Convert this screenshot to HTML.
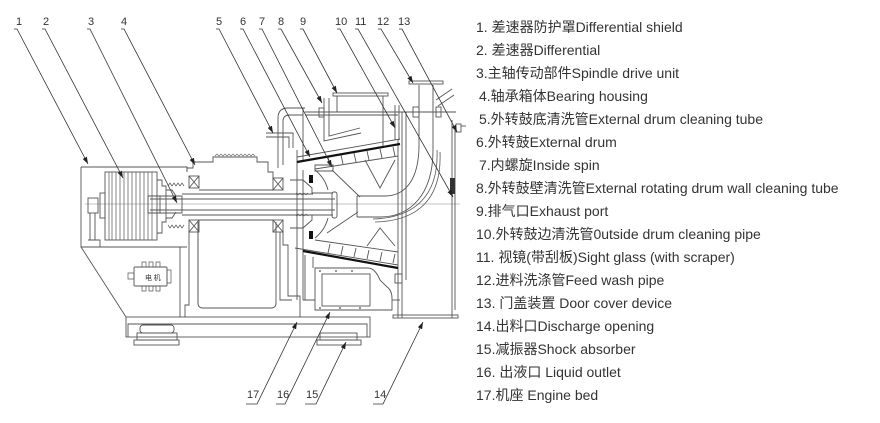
<!DOCTYPE html>
<html><head><meta charset="utf-8"><style>
html,body{margin:0;padding:0;background:#fff;}
body{width:880px;height:423px;position:relative;overflow:hidden;}
svg{position:absolute;left:0;top:0;}
.lg{position:absolute;left:476px;top:15.5px;font-size:14px;line-height:23px;color:#333;font-family:"Liberation Sans","Noto Sans CJK SC",sans-serif;}
.lg div{height:23px;white-space:pre;}
.i{padding-left:3px;}
</style></head><body>
<svg width="880" height="423" viewBox="0 0 880 423">
<defs><marker id="a" markerWidth="8" markerHeight="6" refX="7" refY="3" orient="auto" markerUnits="userSpaceOnUse"><path d="M0,0.6 L7,3 L0,5.4z" fill="#222"/></marker></defs>
<path d="M85,204 H460" stroke="#888" stroke-width="0.6" fill="none"/>
<g stroke="#555" stroke-width="0.9" fill="none">
<path d="M81,167 H187 V172 M81,167 V247 H187"/>
<path d="M81,247 L126,317 M180,247 V317"/>
<rect x="105" y="172" width="52" height="68"/>
<path d="M109,172V240M112,172V240M116,172V240M120,172V240M124,172V240M128,172V240M132,172V240M136,172V240M140,172V240M144,172V240M148,172V240M152,172V240" stroke-width="0.7"/>
<path d="M157,180 H162 V186 H166 V222 H162 V233 H157"/>
<path d="M166,190 H172 L176,196 M166,218 H172 L176,212"/>
<path d="M168,186 l2,-3 l2,3 l2,-3 l2,3 l2,-3 l2,3 l2,-3 l2,3 M168,225 l2,3 l2,-3 l2,3 l2,-3 l2,3 l2,-3 l2,3 l2,-3" stroke-width="0.7"/>
<rect x="88" y="198" width="10" height="15"/>
<rect x="100" y="193" width="5" height="25"/>
<path d="M90,213 V240 M95,213 V240 M88,240 H100 V247"/>
<path d="M148,196 H182 V213 H148 Z M160,196 V213"/>
<path d="M182,194 H313 M182,215 H313 M150,199 H335 M150,210 H335"/>
<path d="M296,193 l2,2 l2,-2 l2,2 l2,-2 l2,2 l2,-2 M296,216 l2,-2 l2,2 l2,-2 l2,2 l2,-2 l2,2" stroke-width="0.6"/>
<rect x="189" y="176" width="10" height="12"/><path d="M189,176 L199,188 M199,176 L189,188"/>
<rect x="189" y="220" width="10" height="12"/><path d="M189,220 L199,232 M199,220 L189,232"/>
<rect x="273" y="178" width="10" height="12"/><path d="M273,178 L283,190 M283,178 L273,190"/>
<rect x="273" y="220" width="10" height="12"/><path d="M273,220 L283,232 M283,220 L273,232"/>
<path d="M187,172 V168 H193 V162 H213 V157 H257 V162 H268 V172 H273 V178"/>
<path d="M199,190 H273 M199,220 H273"/>
<path d="M215,156 l2,-2 l2,2 l2,-2 l2,2 l2,-2 l2,2 l2,-2 l2,2 l2,-2 l2,2 l2,-2 l2,2 l2,-2 l2,2 l2,-2 l2,2 l2,-2 l2,2 l2,-2 l2,2" stroke-width="0.6"/>
<path d="M189,232 V305 H185 V317 M198,232 V303"/>
<path d="M198,222 V303 Q198,308 203,308 H271 Q276,308 276,303 V222"/>
<path d="M283,232 V245 H288 V296 H300 V317 M280,232 V300 H292"/>
<path d="M278,168 V118 Q278,108 288,108 H305 M283,165 V121 Q283,115 290,115 H303"/>
<path d="M266,133 H293 V148 M266,137 H289 V148"/>
<path d="M303,108 V162 M297,150 V300 M303,170 V300"/>
<path d="M290,180 H303 L312,188 V193 H333 M290,228 H303 L312,220 V215 H333"/>
<rect x="332" y="192" width="5" height="26" rx="2"/>
<path d="M315,170 Q325,178 328,190 M315,238 Q325,230 328,218"/>
<path d="M297,157 L400,139"/>
<path d="M315,169 L398,156"/>
<path d="M330,166 l-2,-9 M343,164 l-2,-9 M356,162 l-2,-9 M369,160 l-2,-9 M382,158 l-2,-9 M395,156 l-2,-9"/>
<path d="M315,165 H333 V171 H315 Z"/>
<path d="M332,170 L360,197 M365,160 L380,188 L395,160"/>
<path d="M295,248 L398,265"/>
<path d="M315,240 L398,252"/>
<path d="M330,244 l-2,9 M343,246 l-2,9 M356,248 l-2,9 M369,250 l-2,9 M382,252 l-2,9 M395,254 l-2,9"/>
<path d="M327,233 L358,212 M367,246 L380,228 L395,246"/>
<path d="M357,196 V217"/>
<path d="M433,85 V150 C433,195 410,217 380,217 H357"/>
<path d="M419,85 V145 C419,180 405,196 385,196 H357"/>
<path d="M437,150 C439,195 415,218 373,219 M440,152 C442,199 418,221 375,222" stroke-width="0.8"/>
<rect x="409" y="81" width="34" height="3"/>
<path d="M436,100 L452,89 M438,106 L454,95"/>
<path d="M305,112 H456 M305,115 H398"/>
<rect x="319" y="108" width="5" height="9"/>
<rect x="413" y="107" width="6" height="10"/>
<rect x="436" y="107" width="5" height="10"/>
<rect x="333" y="93" width="55" height="3"/>
<path d="M337,96 V112 M383,96 V148"/>
<path d="M324,98 V141 L361,133 M329,98 V136 L360,128"/>
<path d="M395,105 V140 M399,105 V140"/>
<path d="M398,140 V318 M402,112 V318 M406,112 V280"/>
<rect x="395" y="274" width="7" height="9"/>
<path d="M452,120 V318 M455,128 V310"/>
<rect x="456" y="124" width="5" height="8"/><path d="M461,126 H466"/>
<rect x="393" y="315" width="65" height="3"/>
<path d="M315,268 H368 Q375,268 380,280 L386,286 Q392,290 392,298 V310 H315 Z"/>
<rect x="322" y="274" width="48" height="32"/>
<path d="M392,300 H400"/>
<path d="M305,255 V300 M313,257 V268 M303,300 H315"/>
<rect x="126" y="317" width="244" height="20"/>
<path d="M128,337 V324 H367 V337"/>
<rect x="140" y="325" width="34" height="8" rx="3"/>
<rect x="137" y="333" width="40" height="7"/>
<rect x="134" y="340" width="45" height="5"/>
<rect x="320" y="333" width="37" height="7"/>
<rect x="317" y="340" width="44" height="5"/>
<rect x="134" y="267" width="33" height="19" rx="1"/>
<path d="M142,262h4v5h-4zM149,262h4v5h-4zM156,262h4v5h-4zM142,286h4v5h-4zM149,286h4v5h-4zM156,286h4v5h-4zM128,273h6v6h-6zM167,270h4v13h-4z" stroke-width="0.7"/>
</g>
<path d="M297,162 L400,144" stroke="#111" stroke-width="2.2"/>
<path d="M303,251 L398,268" stroke="#111" stroke-width="2.2"/>
<rect x="309" y="175" width="4" height="8" fill="#111"/>
<rect x="309" y="231" width="4" height="8" fill="#111"/>
<rect x="450" y="178" width="5" height="16" fill="#333"/>
<circle cx="320" cy="271" r="0.9" fill="#444"/><circle cx="336" cy="271" r="0.9" fill="#444"/><circle cx="352" cy="271" r="0.9" fill="#444"/><circle cx="320" cy="308" r="0.9" fill="#444"/><circle cx="340" cy="308" r="0.9" fill="#444"/><circle cx="360" cy="308" r="0.9" fill="#444"/>
<text x="145" y="280" font-size="7" fill="#333" font-family="'Noto Sans CJK SC',sans-serif">电 机</text>
<g stroke="#333" stroke-width="0.8" fill="none" marker-end="url(#a)">
<path d="M14,29 H17 L88,164"/>
<path d="M42,29 H45 L123,178"/>
<path d="M87,29 H90 L177,203"/>
<path d="M121,29 H124 L195,165"/>
<path d="M216,29 H219 L273,133"/>
<path d="M240,29 H243 L310,157"/>
<path d="M259,29 H262 L332,167"/>
<path d="M278,29 H281 L322,103"/>
<path d="M300,29 H303 L337,93"/>
<path d="M337,29 H340 L395,128"/>
<path d="M355,29 H358 L453,197"/>
<path d="M378,29 H381 L413,83"/>
<path d="M399,29 H402 L457,132"/>
<path d="M246,404 H257 L297,322"/>
<path d="M276,404 H285 L330,312"/>
<path d="M305,404 H316 L346,342"/>
<path d="M373,404 H383 L423,322"/>
</g>
<g font-family="'Liberation Sans',sans-serif" font-size="11" fill="#333">
<text x="16" y="25">1</text><text x="43" y="25">2</text><text x="88" y="25">3</text><text x="121" y="25">4</text>
<text x="216" y="25">5</text><text x="240" y="25">6</text><text x="259" y="25">7</text><text x="278" y="25">8</text>
<text x="300" y="25">9</text><text x="335" y="25">10</text><text x="355" y="25">11</text><text x="377" y="25">12</text><text x="398" y="25">13</text>
<text x="247" y="398">17</text><text x="277" y="398">16</text><text x="306" y="398">15</text><text x="374" y="398">14</text>
</g>
</svg>
<div class="lg"><div>1. 差速器防护罩Differential shield</div><div>2. 差速器Differential</div><div>3.主轴传动部件Spindle drive unit</div><div class="i">4.轴承箱体Bearing housing</div><div class="i">5.外转鼓底清洗管External drum cleaning tube</div><div>6.外转鼓External drum</div><div class="i">7.内螺旋Inside spin</div><div>8.外转鼓壁清洗管External rotating drum wall cleaning tube</div><div>9.排气口Exhaust port</div><div>10.外转鼓边清洗管0utside drum cleaning pipe</div><div>11. 视镜(带刮板)Sight glass (with scraper)</div><div>12.进料洗涤管Feed wash pipe</div><div>13. 门盖装置 Door cover device</div><div>14.出料口Discharge opening</div><div>15.减振器Shock absorber</div><div>16. 出液口 Liquid outlet</div><div>17.机座 Engine bed</div></div>
</body></html>
